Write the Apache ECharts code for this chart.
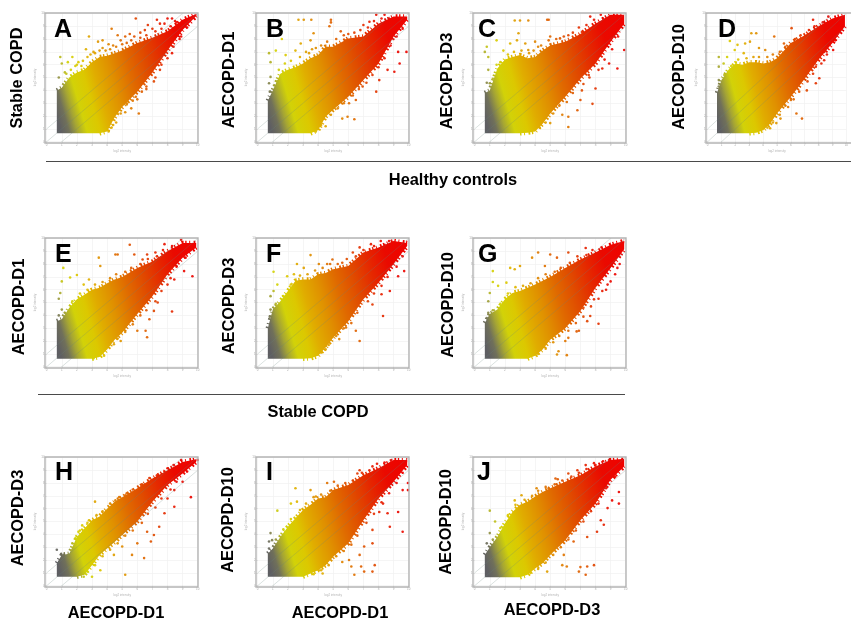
<!DOCTYPE html>
<html><head><meta charset="utf-8">
<style>html,body{margin:0;padding:0;background:#fff;overflow:hidden}#c{width:851px;height:620px;filter:blur(.35px)}</style>
<script src="https://cdn.jsdelivr.net/npm/echarts@6/dist/echarts.min.js"></script>
</head><body><div id="c"></div>
<script>
const FONT='"Liberation Sans", Arial, sans-serif';
const X_SAMPLES=[0.67,1,1.5,2,2.5,3,3.5,4,4.5,5,6,7,8,9,9.9];
const TICKS=[0,1,2,3,4,5,6,7,8,9,10];
const DIAGONALS=[-1,0,1];

const A_HIGH=[4.0,4.2,5.0,5.4,5.6,6.2,6.6,6.7,6.9,7.1,7.7,8.1,8.6,9.5,9.95];
const A_LOW=[.65,.65,.65,.65,.65,.65,.65,.8,1.9,2.7,3.9,5.4,7.1,8.7,9.8];
const A_OUT=[[5.9,9.6],[6.7,9.1],[7.3,9.5],[7.5,9.2],[8,9.6],[8.3,9.6],[7.8,9.2],[8.5,9.4],[7,8.8],[6.5,8.7],[6.2,8.5],[4.3,8.8],[4.7,8.3],[5.2,8.2],[5.5,8.4],[4.9,7.9],[5.8,8.2],[3.7,7.9],[2.8,8.2],[3.4,7.8],[3.1,7],[3.7,7.3],[4.1,7.6],[4.4,7.5],[2.6,7.2],[2.9,6.8],[1.7,6.6],[1.4,6.2],[.9,6.6],[1,6.1],[1.2,5.4],[.8,5],[1.6,5.6],[2.1,6.2],[2.3,5.9],[6.1,2.2],[5.6,2.6],[4.1,.8],[4.7,2.2],[5.2,2.3],[5.3,3],[6,3.3],[5.9,3.5],[6.6,4.3],[7.1,4.7],[7.6,6],[8.3,6.9],[8.8,8],[4.4,1.3],[2,6],[2.4,6.3],[2.7,6.6],[3.2,6.9],[3.5,7.1],[3.9,7.1],[4.2,7.2],[4.6,7.4],[5,7.6],[5.3,7.7],[5.6,7.9],[6.2,8.1],[6.6,8.3],[7.2,8.6],[7.6,8.8],[8.2,9],[8.6,9.3],[1.3,5.3],[1.9,5.9],[4.3,1.1],[4.6,1.5],[4.9,2.2],[5.3,2.9],[5.7,3.2],[6.3,3.9],[6.6,4.1],[7.2,5],[7.5,5.6],[8,6.5],[8.4,7.4],[8.9,8.2],[9.3,8.9]];

const B_HIGH=[3.2,4.0,5.3,5.6,5.8,6.1,6.5,6.75,7.4,7.4,8.05,8.2,9.2,9.75,9.75];
const B_LOW=[.65,.65,.65,.65,.65,.65,.65,.9,1.95,2.5,3.5,4.8,6.1,8.2,9.5];
const B_OUT=[[2.7,9.5],[3.05,9.5],[3.55,9.5],[4.85,9.5],[4.75,9],[4.85,9.3],[7.85,9.9],[8.4,9.9],[8.7,9.6],[3.7,8.45],[3.5,7.9],[2.85,7.65],[1.6,8],[.75,6.9],[.85,6.2],[1.2,7.1],[1.85,6.75],[2.5,7.1],[3.85,7.3],[3.4,6.9],[5.5,8.6],[6,8.4],[7,9.1],[7.4,9.35],[5.85,7.9],[9.3,7],[9.85,7],[9.05,5.45],[8.6,5.6],[8.05,4.8],[7.85,3.9],[6.95,4.3],[6.5,3.25],[6.05,3],[5.95,1.95],[6.4,1.75],[5.6,1.8],[4.5,1.2],[3.85,.8],[5.05,2.7],[4.85,2.1],[9.4,6.1],[.85,5.05],[.75,4.55],[1.3,4.7],[.8,3.9],[1.1,4.4],[1.4,5.6],[1.8,6.1],[2.2,6.3],[2.8,6.6],[3.2,7],[3.6,7.2],[4.2,7.5],[4.6,7.8],[5.2,8],[5.7,8.3],[6.4,8.5],[6.8,8.7],[7.3,8.9],[7.7,9.4],[8.2,9.6],[4.2,1.3],[4.7,2.3],[5.3,2.6],[5.7,3],[6.3,3.6],[6.7,4.1],[7.2,4.6],[7.6,5.2],[8,5.8],[8.4,6.5],[8.8,7.5],[9.2,8.2],[9.6,8.8]];

const C_HIGH=[3.8,4,5.7,6.4,6.6,6.75,6.5,6.6,7.1,7.5,7.8,8.4,9.2,9.9,9.9];
const C_LOW=[.65,.65,.65,.65,.65,.65,.7,.8,1.4,2.2,3.5,4.9,6.1,7.8,9.2];
const C_OUT=[[2.65,9.45],[3,9.45],[3.55,9.45],[4.8,9.5],[4.9,9.5],[7.65,9.75],[8.35,9.9],[7.1,8.55],[2.9,8.45],[2.8,7.9],[2.35,7.65],[1.45,7.9],[.8,7.4],[.67,7],[.9,6.6],[1.45,6],[.9,5.6],[1,4.55],[1.9,7.1],[3.35,7.65],[4,7.8],[3.55,7.15],[5,8.2],[5.65,8.05],[6.2,8.3],[4.2,7.4],[9.9,7.15],[9.45,5.7],[8.9,6.1],[8.45,5.7],[8,4.15],[7.8,2.95],[7,3.25],[6.8,2.45],[6.2,1.95],[6.2,1.15],[5.8,2.1],[5,1.45],[7.1,4],[7.55,5.2],[.8,4.6],[1.2,4.9],[1.7,6.2],[2.2,6.8],[2.6,7],[3.1,7.1],[3.6,6.9],[3.9,7.1],[4.4,7.5],[4.9,7.9],[5.4,8],[5.9,8.2],[6.5,8.5],[6.9,8.9],[7.4,9.1],[7.9,9.5],[8.5,9.6],[4.3,1.1],[4.7,1.5],[5.2,2.2],[5.6,2.8],[6.1,3.1],[6.5,3.8],[7.2,4.5],[7.6,5],[8.2,5.6],[8.6,6.4],[9.1,7.2],[9.5,8.2]];

const D_HIGH=[3.8,4.8,5.6,6.1,6,6.2,6.2,6.1,6.2,6.5,7.7,8.3,9,9.6,9.9];
const D_LOW=[.65,.65,.65,.65,.65,.65,.7,.9,1.4,2.2,3.5,4.9,6.4,7.7,9];
const D_OUT=[[3.15,8.45],[3.5,8.45],[1.6,7.85],[2.7,7.65],[2.15,7.55],[3.05,7.8],[1.95,7.15],[1.4,6.6],[.8,6.6],[.8,5.85],[1.15,6.1],[2.6,6.9],[3.7,7.3],[4.8,8.2],[5.5,7.65],[6.05,8.85],[7.6,9.5],[8.7,9.75],[7.9,8.45],[9.4,9.1],[9.05,7.15],[8.4,7],[7.8,5.85],[8.05,4.95],[7.8,4.55],[7.15,4],[6.8,1.8],[6.4,2.2],[6,3.25],[5.25,1.8],[4.95,1.45],[5.8,2.7],[4.5,1.05],[.8,4.8],[.95,4.15],[8.4,6.35],[4.15,7.15],[.8,4.3],[1.2,5.2],[1.7,5.9],[2.2,6.4],[2.8,6.5],[3.3,6.6],[3.7,6.6],[4.3,6.6],[4.7,6.8],[5.2,7],[5.6,7.4],[6.3,8],[6.7,8.3],[7.3,8.7],[7.7,9],[8.3,9.3],[4.3,1.1],[4.7,1.5],[5.2,2.1],[5.6,2.8],[6.2,3.3],[6.6,3.9],[7.2,4.7],[7.6,5.3],[8.2,6.1],[8.6,6.8],[9.2,7.9]];

const E_HIGH=[3.55,3.7,4.6,5.25,5.6,6,6.15,6.5,6.8,7,7.7,8.2,9,9.65,9.65];
const E_LOW=[.62,.62,.62,.62,.62,.62,.75,1.35,2.1,2.65,4.1,5.5,7.2,8.5,9.3];
const E_OUT=[[5.5,9.5],[3.45,8.5],[4.55,8.75],[4.7,8.75],[3.55,7.85],[2,7.15],[1.55,6.95],[1.1,7.7],[1,6.65],[.9,5.75],[.8,5.3],[1,4.45],[2.8,6.8],[2.45,6.4],[5.8,8.75],[6.35,8.35],[7.2,8.9],[6.65,8.75],[7.8,9.55],[8.9,9.9],[9.65,7.05],[9.1,7.45],[8.3,4.3],[7.35,5],[8.45,6.8],[8,6.4],[6.55,2.8],[6.65,2.3],[6,2.8],[4.9,2],[4.45,1.75],[3.1,.65],[3.8,.85],[7.1,4.35],[6.8,3.7],[.8,4],[1.2,4.2],[1.7,5.1],[2.2,5.7],[2.7,6],[3.2,6.4],[3.7,6.6],[4.2,6.9],[4.6,7.2],[5.2,7.4],[5.6,7.7],[6.2,8],[6.7,8.4],[7.3,8.6],[7.7,9.1],[8.3,9.4],[3.7,1.2],[4.2,1.9],[4.7,2.2],[5.2,2.7],[5.7,3.3],[6.2,4],[6.6,4.4],[7.2,5.1],[7.6,5.9],[8.2,6.9],[8.6,7.8],[9.2,8.5]];

const F_HIGH=[3,4.45,5.1,5.9,6.7,6.8,6.8,7.2,7.3,7.6,7.85,8.9,9.3,9.8,9.65];
const F_LOW=[.62,.62,.62,.62,.62,.62,.65,.85,1.5,2.25,3.55,5.25,6.55,8,9.4];
const F_OUT=[[2.6,8],[3.5,8.7],[1.05,7.4],[1.3,6.4],[1.05,5.9],[.85,5.5],[.85,4.45],[2.5,6.4],[3.05,7.7],[4.05,8],[4.6,8],[4.95,8.35],[5.6,8.1],[6.3,8.9],[6.75,9.3],[7.5,9.55],[8.15,9.8],[8.7,9.8],[7.2,8.5],[9.7,7.45],[9.3,7.05],[8.75,5.9],[8.3,3.95],[8.2,5.65],[7.6,4.85],[6.75,2],[6.5,2.8],[5.85,3.05],[5.4,2.15],[4.5,1.35],[4.2,1.1],[1.95,7.05],[2.4,7.2],[.8,3.9],[1.2,4.9],[1.7,5.5],[2.2,6.4],[2.8,7.1],[3.3,7.2],[3.8,7.5],[4.3,7.7],[4.8,8],[5.3,8],[5.9,8.4],[6.5,8.6],[7,9.1],[7.7,9.4],[8.4,9.5],[4.2,1.2],[4.7,1.7],[5.2,2.4],[5.7,3],[6.2,3.4],[6.6,4.2],[7.3,5.1],[7.7,5.7],[8.2,6.3],[8.6,7],[9.2,7.8],[9.6,8.6]];

const G_HIGH=[3.4,4.1,4.45,5.25,5.75,5.9,6.15,6.4,6.7,7,7.7,8.35,8.9,9.5,9.8];
const G_LOW=[.62,.62,.62,.62,.62,.62,.62,.85,1.35,2.1,3,4.35,6.15,7.7,9.15];
const G_OUT=[[4.2,8.9],[3.8,8.5],[5.45,8.5],[5,8.75],[4.65,7.85],[2.35,7.7],[2.65,7.6],[3,7.85],[1.2,7.45],[1.2,6.6],[1.55,6.3],[2.1,6.55],[1,5.75],[.9,5.1],[.9,4.2],[7.35,9.25],[6.8,8.1],[6.2,8.9],[5.9,7.2],[8.35,6.95],[9.45,7.7],[8.8,6.4],[8.2,3.35],[7.65,3.95],[7.2,4.6],[6.9,2.8],[6.75,2.75],[6.1,.9],[5.55,1.2],[5.45,.95],[6.2,2.25],[6,2],[8.45,5.9],[9,6.65],[7.9,5.25],[7.45,3.55],[.8,3.8],[1.2,4.4],[1.7,4.9],[2.2,5.7],[2.7,6.2],[3.2,6.3],[3.7,6.5],[4.2,6.9],[4.7,7.2],[5.3,7.4],[5.7,7.7],[6.3,8.1],[6.8,8.6],[7.4,8.7],[7.8,9.1],[8.4,9.3],[4.2,1],[4.7,1.4],[5.2,1.9],[5.6,2.4],[6.2,2.8],[6.7,3.4],[7.2,3.9],[7.7,4.7],[8.2,5.3],[8.7,6],[9.3,7.2],[9.6,8]];

const H_HIGH=[1.75,2.4,2.5,3.8,4.45,5.1,5.4,6,6.55,6.9,7.6,8.35,9,9.65,9.85];
const H_LOW=[.7,.7,.7,.7,.85,1.6,2.4,2.9,3.4,3.95,5,6.55,7.85,8.75,9.65];
const H_OUT=[[3.2,6.55],[2.35,4.7],[1.9,3.7],[.67,2.8],[1.1,2.4],[1.45,2.4],[2.1,4.2],[2.8,5.1],[4.55,6.65],[5.2,7.05],[6.35,7.85],[7.35,8.5],[8,9.15],[8.9,9.8],[10,9.8],[9.55,6.9],[8.45,6.15],[8,6.8],[7.8,5.65],[7.1,3.95],[7.45,4.6],[6.9,3.45],[6.45,2.15],[5.65,2.4],[5.2,.85],[6,3.3],[5,3.05],[4.45,2.4],[3.55,1.2],[3,.7],[2.45,.7],[6.65,4.2],[8.45,7.45],[9,8.1],[1.7,3.3],[2.2,4.3],[2.7,4.9],[3.3,5.5],[3.7,5.8],[4.2,6.4],[4.8,6.9],[5.3,7.2],[5.7,7.5],[6.3,7.9],[6.8,8.4],[7.3,8.6],[7.8,8.9],[8.4,9.4],[2.7,1.1],[3.2,1.6],[3.7,2.3],[4.2,2.8],[4.7,3.3],[5.2,3.9],[5.7,4.3],[6.3,4.9],[6.7,5.6],[7.2,6.1],[7.6,6.8],[8.2,7.5],[8.6,8.1],[9.3,8.9]];

const I_HIGH=[2.5,2.9,3.8,4.6,5.25,5.9,6.3,6.8,6.9,7.45,7.85,8.6,9.15,9.8,9.8];
const I_LOW=[.7,.7,.7,.7,.7,.7,.95,1.2,1.6,2.25,3.3,5.1,6.8,8.1,9.4];
const I_OUT=[[2.5,7.6],[2.2,6.4],[2.6,6.55],[1.3,5.85],[.85,4.1],[.75,3.45],[.75,2.9],[.95,3.55],[3.5,7.45],[3.85,6.95],[4.6,8],[5.05,8.1],[6.75,9],[6.6,8.75],[7.6,9.3],[8.85,9.8],[9.95,8],[9.6,7.45],[9.95,7.45],[9.6,4.2],[8.75,4.6],[8.6,5.65],[8.3,6.4],[8.05,5.75],[7.6,4.35],[7.75,1.6],[7.6,1.1],[7.05,1.1],[6.85,1.5],[6.4,.85],[6.2,1.5],[6.05,2],[6.75,2.4],[7.05,3.05],[5.6,1.85],[4.3,.95],[4.05,1.2],[7.6,3.3],[9.3,5.75],[1.2,3.6],[1.7,4.4],[2.2,5.2],[2.8,5.9],[3.2,6.4],[3.7,6.9],[4.2,7.1],[4.8,7.4],[5.3,7.8],[5.8,8],[6.3,8.2],[6.9,8.8],[7.4,9],[7.9,9.5],[8.4,9.6],[3.7,.9],[4.2,1.2],[4.7,1.6],[5.2,2.3],[5.7,2.7],[6.2,3.2],[6.6,3.9],[7.2,4.9],[7.7,5.6],[8.2,6.5],[8.7,7.2],[9.2,8],[9.6,8.8]];

const J_HIGH=[2.4,3,3.8,4.85,5.75,6.3,6.55,6.95,7.3,7.6,8.1,8.6,9.3,9.8,9.9];
const J_LOW=[.65,.65,.65,.65,.65,.65,.85,1.35,1.75,2.4,3.55,5.1,6.4,8.25,9.3];
const J_OUT=[[1,5.85],[1.35,5],[1,4.1],[.8,3.3],[2.65,6.65],[3.1,7.05],[4.1,7.6],[4.9,7.6],[5.35,8.35],[5.5,8.3],[6.2,8.75],[6.8,9],[7.35,9.4],[7.9,9.55],[8.9,9.8],[9.55,7.3],[9.1,6.65],[9.55,6.4],[8.35,5.1],[8.1,4.2],[7.45,3.8],[7.9,1.6],[7.45,1.5],[7,1.45],[6.9,1.1],[7.35,.85],[6.1,1.5],[5.8,1.6],[5.9,2.4],[4.8,1.1],[4.55,2],[8.55,4.75],[8.8,6.05],[6.55,3.45],[3.9,1.5],[1.2,3.6],[1.7,4.5],[2.2,5.5],[2.7,6.3],[3.3,6.7],[3.8,7],[4.2,7.4],[4.7,7.7],[5.3,7.9],[5.8,8.2],[6.4,8.5],[6.9,8.8],[7.4,9.1],[8,9.4],[8.5,9.7],[3.7,1],[4.2,1.3],[4.7,1.8],[5.2,2.4],[5.7,3],[6.2,3.6],[6.7,4.3],[7.2,5],[7.7,5.8],[8.2,6.4],[8.7,7.6],[9.3,8.5]];

const PANEL_DATA={A:[A_HIGH,A_LOW,A_OUT],B:[B_HIGH,B_LOW,B_OUT],C:[C_HIGH,C_LOW,C_OUT],D:[D_HIGH,D_LOW,D_OUT],E:[E_HIGH,E_LOW,E_OUT],F:[F_HIGH,F_LOW,F_OUT],G:[G_HIGH,G_LOW,G_OUT],H:[H_HIGH,H_LOW,H_OUT],I:[I_HIGH,I_LOW,I_OUT],J:[J_HIGH,J_LOW,J_OUT]};

const LAYOUT=[
['A',45,13,54,30,'Stable COPD',17.5,78],
['B',256,13,266,30,'AECOPD-D1',229,80],
['C',473,13,478,30,'AECOPD-D3',447,81],
['D',706,13,718,30,'AECOPD-D10',679,77],
['E',45,238,55,255,'AECOPD-D1',19,307],
['F',256,238,266,255,'AECOPD-D3',229,306],
['G',473,238,478,255,'AECOPD-D10',448,305],
['H',45,457,55,473,'AECOPD-D3',18,518],
['I',256,457,266,473,'AECOPD-D10',228,520],
['J',473,457,477,473,'AECOPD-D10',446,522]];
const CAPTIONS=[['Healthy controls',453,180],['Stable COPD',318,412],['AECOPD-D1',116,613],['AECOPD-D1',340,613],['AECOPD-D3',552,610]];
const RULES=[[46,161.5,851],[38,394.5,625]];

const BOX_W=153,BOX_H=130;
const STOPS=[[0,'#5c5c60'],[.9,'#5e5e62'],[1.35,'#70705a'],[1.8,'#a5a534'],[2.3,'#d2d208'],[3,'#dcc800'],[3.6,'#e0ad00'],[4.5,'#e09000'],[5.5,'#e06a00'],[6.5,'#e04a00'],[7.5,'#e52800'],[8.5,'#ea0a00'],[10,'#f00000']];
const tOf=(x,y)=>.8*x+.2*y;
function colorAt(t){
  for(let i=1;i<STOPS.length;i++){ if(t<=STOPS[i][0]){
    const a=STOPS[i-1],b=STOPS[i];
    return echarts.color.lerp((t-a[0])/(b[0]-a[0]),[a[1],b[1]]);
  }}
  return STOPS[STOPS.length-1][1];
}
const grid=[],xAxis=[],yAxis=[],series=[],graphic=[];
LAYOUT.forEach((p,i)=>{
  const [name,bl,bt,lx,ly,yl,ylx,yly]=p;
  const [hi,lo,out]=PANEL_DATA[name];
  grid.push({left:bl+1.7,top:bt+.4,width:151,height:128.3,containLabel:false});
  const axisCommon={type:'value',min:0,max:10,interval:1,gridIndex:i,
    axisLine:{show:false},axisTick:{show:true,length:1.5,lineStyle:{color:'#c4c4c4',width:.6}},
    splitLine:{show:true,lineStyle:{color:'#f0f0f0',width:.7}},
    axisLabel:{fontSize:3,color:'#a8a8a8',margin:2,fontFamily:FONT,customValues:TICKS},
    nameTextStyle:{fontSize:3,color:'#b4b4b4',fontFamily:FONT}};
  xAxis.push({...axisCommon,name:'log2 intensity',nameLocation:'middle',nameGap:8});
  yAxis.push({...axisCommon,name:'log2 intensity',nameLocation:'middle',nameGap:10});
  const rows=X_SAMPLES.map((x,k)=>[x,lo[k],hi[k]]);
  series.push({type:'custom',xAxisIndex:i,yAxisIndex:i,silent:true,z:3,data:rows,clip:true,
    renderItem(params,api){
      if(params.dataIndex!==0) return null;
      const upper=rows.map(r=>api.coord([r[0],r[2]]));
      const lowerAll=rows.map(r=>api.coord([r[0],r[1]]));
      const firstRise=rows.findIndex(r=>r[1]>rows[0][1]+.01);
      const lowerEdge=lowerAll.slice(Math.max(0,firstRise-1));
      const o=api.coord([0,0]),ux=api.coord([1,0])[0]-o[0],uy=o[1]-api.coord([0,1])[1];
      const gx=.8/ux,gy=-.2/uy,m=gx*gx+gy*gy;
      const end=[o[0]+gx/m*10,o[1]+gy/m*10];
      const grad=()=>new echarts.graphic.LinearGradient(o[0],o[1],end[0],end[1],
        STOPS.map(s=>({offset:s[0]/10,color:s[1]})),true);
      const rim=pts=>({type:'polyline',shape:{points:pts},style:{fill:null,stroke:grad(),lineWidth:4.5,lineDash:[1.4,2.6,1,3.4,1.8,1.6]}});
      return {type:'group',children:[
        rim(upper),rim(lowerEdge),
        {type:'polygon',shape:{points:upper.concat(lowerAll.slice().reverse())},style:{fill:grad()}}
      ]};
    }});
  series.push({type:'scatter',xAxisIndex:i,yAxisIndex:i,silent:true,z:4,symbolSize:2.6,data:out,
    itemStyle:{color:d=>colorAt(tOf(d.value[0],d.value[1])),opacity:.92}});
  DIAGONALS.forEach(off=>{
    series.push({type:'line',xAxisIndex:i,yAxisIndex:i,silent:true,z:5,symbol:'none',clip:true,
      data:[[0,off],[10,10+off]],lineStyle:{color:'rgba(105,135,125,.42)',width:.6}});
  });
  graphic.push({type:'rect',z:20,shape:{x:bl,y:bt,width:BOX_W,height:BOX_H},style:{fill:'none',stroke:'#b4b4b4',lineWidth:1.4}});
  graphic.push({type:'text',z:21,x:lx,y:ly,style:{text:name,font:'bold 25px '+FONT,fill:'#000',textAlign:'left',textVerticalAlign:'middle'}});
  graphic.push({type:'text',z:21,x:ylx,y:yly,rotation:Math.PI/2,style:{text:yl,font:'bold 16.4px '+FONT,fill:'#000',textAlign:'center',textVerticalAlign:'middle'}});
});
CAPTIONS.forEach(c=>graphic.push({type:'text',z:21,x:c[1],y:c[2],style:{text:c[0],font:'bold 16.4px '+FONT,fill:'#000',textAlign:'center',textVerticalAlign:'middle'}}));
RULES.forEach(r=>graphic.push({type:'line',z:21,shape:{x1:r[0],y1:r[1],x2:r[2],y2:r[1]},style:{stroke:'#4a4a4a',lineWidth:1.2}}));
const chart=echarts.init(document.getElementById('c'),null,{renderer:'canvas'});
chart.setOption({animation:false,backgroundColor:'#fff',grid,xAxis,yAxis,series,graphic});
</script></body></html>
